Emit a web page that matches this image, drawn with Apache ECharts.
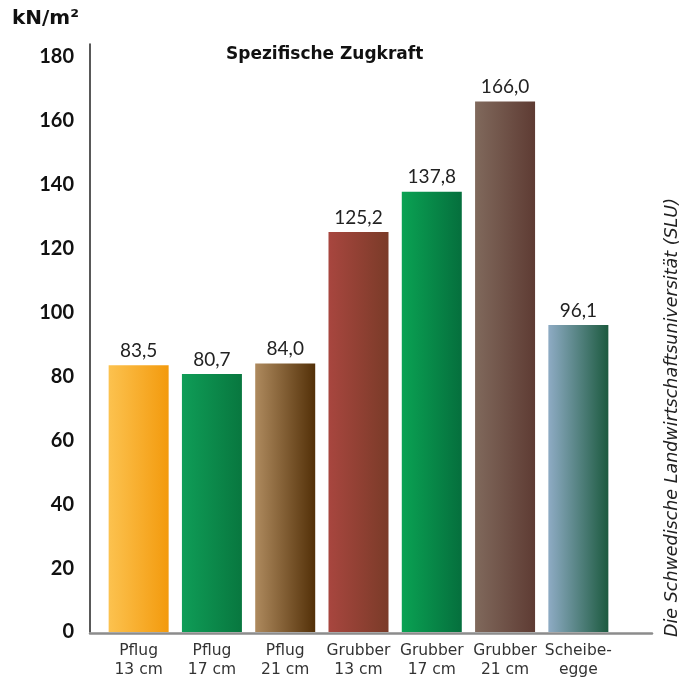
<!DOCTYPE html>
<html>
<head>
<meta charset="utf-8">
<script src="https://cdn.jsdelivr.net/npm/echarts@6/dist/echarts.min.js"></script>
<style>
  html, body { margin: 0; padding: 0; background: #fff; }
  #chart { width: 692px; height: 679px; }
</style>
</head>
<body>
<div id="chart"></div>
<script>
// Daten
var categories = ["Pflug\n13 cm", "Pflug\n17 cm", "Pflug\n21 cm", "Grubber\n13 cm", "Grubber\n17 cm", "Grubber\n21 cm", "Scheibe-\negge"];
var values = [83.5, 80.7, 84.0, 125.2, 137.8, 166.0, 96.1];
var yTicks = [0, 20, 40, 60, 80, 100, 120, 140, 160, 180];

// Farbverlauf je Balken (links -> rechts)
var barColors = [
  ["#fcc24f", "#f39a0d"],
  ["#0f9d57", "#08773f"],
  ["#ae8a5e", "#533008"],
  ["#a8463f", "#7a3b28"],
  ["#0aa253", "#056f3d"],
  ["#80695c", "#5e3b33"],
  ["#8eabc4", "#1c5a3f"]
];

var font = "Lato, 'Noto Sans', sans-serif";
var wide = "'DejaVu Sans', sans-serif";

var chart = echarts.init(document.getElementById("chart"));

chart.setOption({
  animation: false,
  backgroundColor: "#fff",
  grid: [
    { left: 102, right: 77, top: 44, bottom: 46 },
    { left: 90, right: 40, top: 44, bottom: 46 }
  ],
  graphic: [
    {
      type: "text", left: 12, top: 9,
      style: { text: "kN/m²", font: "bold 20px " + wide, fill: "#111" }
    },
    {
      type: "text", left: 226, top: 46,
      style: { text: "Spezifische Zugkraft", font: "bold 17px " + wide, fill: "#111" }
    },
    {
      type: "text", x: 663, y: 637, rotation: Math.PI / 2,
      style: {
        text: "Die Schwedische Landwirtschaftsuniversität (SLU)",
        font: "italic 17.5px " + wide, fill: "#222",
        textAlign: "left", textVerticalAlign: "top"
      }
    }
  ],
  xAxis: [
    {
      type: "category",
      gridIndex: 0,
      data: categories,
      axisLine: { show: false },
      axisTick: { show: false },
      axisLabel: {
        color: "#333", fontSize: 15.5, fontFamily: wide,
        lineHeight: 19, margin: 9, interval: 0
      }
    },
    {
      type: "category",
      gridIndex: 1,
      data: [""],
      axisLine: { show: true, lineStyle: { color: "#8c8c8c", width: 2.5 } },
      axisTick: { show: false },
      axisLabel: { show: false }
    }
  ],
  yAxis: [
    {
      type: "value",
      gridIndex: 0,
      min: 0,
      max: 184,
      interval: 20,
      offset: 12,
      axisLine: { show: true, lineStyle: { color: "#222", width: 1.5 } },
      axisTick: { show: false },
      splitLine: { show: false },
      axisLabel: {
        color: "#111", fontSize: 20, fontWeight: "bold", fontFamily: font, margin: 16,
        formatter: function (v) { return yTicks.indexOf(v) >= 0 ? String(v) : ""; }
      }
    },
    {
      type: "value",
      gridIndex: 1,
      show: false
    }
  ],
  series: [
    {
      type: "bar",
      xAxisIndex: 0,
      yAxisIndex: 0,
      barWidth: 60,
      data: values.map(function (v, i) {
        return {
          value: v,
          itemStyle: {
            color: new echarts.graphic.LinearGradient(0, 0, 1, 0, [
              { offset: 0, color: barColors[i][0] },
              { offset: 1, color: barColors[i][1] }
            ])
          }
        };
      }),
      label: {
        show: true,
        position: "top",
        distance: 5,
        color: "#222",
        fontSize: 19,
        fontFamily: font,
        formatter: function (p) { return p.value.toFixed(1).replace(".", ","); }
      }
    }
  ]
});
</script>
</body>
</html>
